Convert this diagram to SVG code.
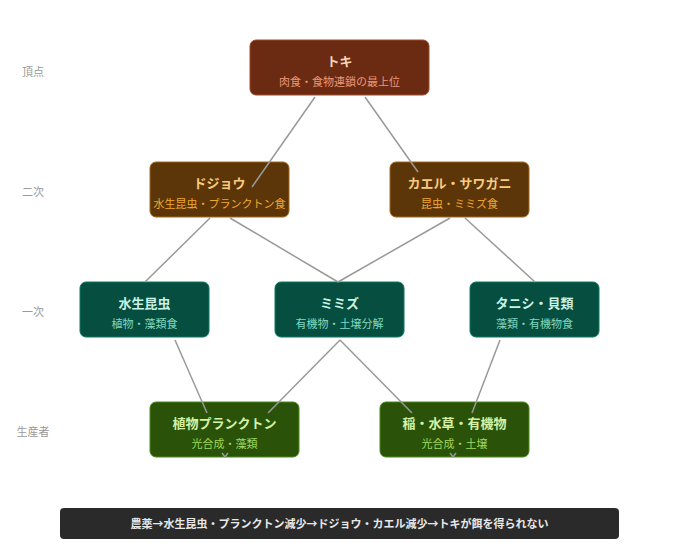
<svg xmlns="http://www.w3.org/2000/svg" width="680" height="560" viewBox="0 0 680 560">
<style>
text{font-family:"Noto Sans CJK JP","Noto Sans",sans-serif;text-anchor:middle}
.t{font-size:13px;font-weight:bold}
.s{font-size:11px}
.side{font-size:11px;fill:#999}
.c line,.c path{stroke:#999;stroke-width:1.5;fill:none}
</style>
<rect width="680" height="560" fill="#fff"/>
<text class="side" x="33" y="76">頂点</text>
<text class="side" x="33" y="196">二次</text>
<text class="side" x="33" y="316">一次</text>
<text class="side" x="33" y="436">生産者</text>
<g id="toki"><rect x="250" y="40" width="179" height="55" rx="6" fill="#6b2a12" stroke="#a04a28"/><text class="t" x="339.5" y="66" fill="#f6d4b8">トキ</text><text class="s" x="339.5" y="86" fill="#e8987a">肉食・食物連鎖の最上位</text></g>
<g id="dojou"><rect x="150" y="162" width="139" height="55" rx="6" fill="#5c3608" stroke="#a06818"/><text class="t" x="219.5" y="188" fill="#f8cc80">ドジョウ</text><text class="s" x="219.5" y="208" fill="#f0a830">水生昆虫・プランクトン食</text></g>
<g id="kaeru"><rect x="390" y="162" width="139" height="55" rx="6" fill="#5c3608" stroke="#a06818"/><text class="t" x="459.5" y="188" fill="#f8cc80">カエル・サワガニ</text><text class="s" x="459.5" y="208" fill="#f0a830">昆虫・ミミズ食</text></g>
<g id="suisei"><rect x="80" y="282" width="129" height="55" rx="6" fill="#064e40" stroke="#0a7a60"/><text class="t" x="144.5" y="308" fill="#c8f2e4">水生昆虫</text><text class="s" x="144.5" y="328" fill="#80d8c0">植物・藻類食</text></g>
<g id="mimizu"><rect x="275" y="282" width="129" height="55" rx="6" fill="#064e40" stroke="#0a7a60"/><text class="t" x="339.5" y="308" fill="#c8f2e4">ミミズ</text><text class="s" x="339.5" y="328" fill="#80d8c0">有機物・土壌分解</text></g>
<g id="tanishi"><rect x="470" y="282" width="129" height="55" rx="6" fill="#064e40" stroke="#0a7a60"/><text class="t" x="534.5" y="308" fill="#c8f2e4">タニシ・貝類</text><text class="s" x="534.5" y="328" fill="#80d8c0">藻類・有機物食</text></g>
<g id="plankton"><rect x="150" y="402" width="149" height="55" rx="6" fill="#2a5208" stroke="#4a8a18"/><text class="t" x="224.5" y="428" fill="#d4f2a8">植物プランクトン</text><text class="s" x="224.5" y="448" fill="#a0d860">光合成・藻類</text></g>
<g id="ine"><rect x="380" y="402" width="149" height="55" rx="6" fill="#2a5208" stroke="#4a8a18"/><text class="t" x="454.5" y="428" fill="#d4f2a8">稲・水草・有機物</text><text class="s" x="454.5" y="448" fill="#a0d860">光合成・土壌</text></g>
<g class="c">
<line x1="315" y1="97" x2="252" y2="187"/>
<line x1="365" y1="97" x2="418" y2="172"/>
<line x1="210" y1="218" x2="145" y2="282"/>
<line x1="230" y1="218" x2="338" y2="282"/>
<line x1="450" y1="218" x2="338" y2="282"/>
<line x1="465" y1="218" x2="535" y2="282"/>
<line x1="175" y1="340" x2="207" y2="413"/>
<line x1="340" y1="340" x2="268" y2="413"/>
<line x1="340" y1="340" x2="412" y2="413"/>
<line x1="500" y1="340" x2="472" y2="413"/>
<path d="M222 453 L225 457 L228 453" stroke-width="1"/>
<path d="M450 453 L453 457 L456 453" stroke-width="1"/>
</g>
<g id="note"><rect x="60" y="508" width="559" height="31" rx="4" fill="#2a2a2a"/><text x="339.5" y="528" font-size="11" font-weight="bold" fill="#e8e8e8">農薬→水生昆虫・プランクトン減少→ドジョウ・カエル減少→トキが餌を得られない</text></g>
</svg>
